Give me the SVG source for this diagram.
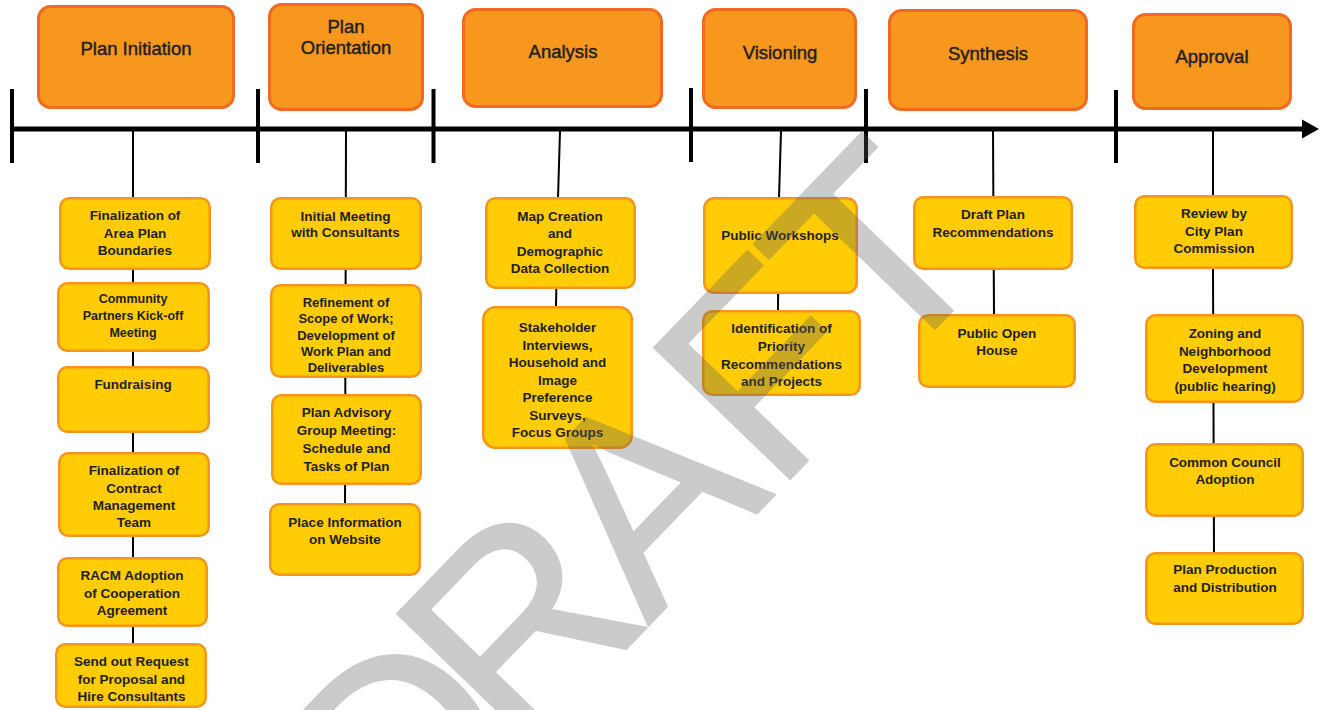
<svg xmlns="http://www.w3.org/2000/svg" width="1323" height="710" viewBox="0 0 1323 710">
<style>
.hdr rect{fill:#F7971D;stroke:#F26A22;stroke-width:3}
.box rect{fill:#FFCC05;stroke:#F7941D;stroke-width:2.5}
.hdr text{font-family:"Liberation Sans",Arial,sans-serif;font-size:18.5px;fill:#231F20;stroke:#231F20;stroke-width:0.45px;text-anchor:middle}
.box text{font-family:"Liberation Sans",Arial,sans-serif;font-size:13.5px;font-weight:bold;fill:#231F20;text-anchor:middle}
.box text.s{font-size:12.5px}
.box text.m{font-size:13px}
.conn line,.conn polyline{stroke:#000;stroke-width:2;fill:none}
</style>
<rect width="1323" height="710" fill="#fff"/>
<g id="timeline">
<line x1="10" y1="129" x2="1305" y2="129" stroke="#000" stroke-width="5"/>
<polygon points="1302,119.5 1319,129 1302,138.5" fill="#000"/>
<g stroke="#000" stroke-width="4">
<line x1="12" y1="89" x2="12" y2="163"/>
<line x1="258" y1="89" x2="258" y2="163"/>
<line x1="433.5" y1="89" x2="433.5" y2="163"/>
<line x1="691" y1="88" x2="691" y2="162"/>
<line x1="866" y1="89" x2="866" y2="163"/>
<line x1="1116" y1="90" x2="1116" y2="163"/>
</g>
</g>
<g id="connectors" class="conn">
<line x1="133" y1="131" x2="133" y2="645"/>
<line x1="346" y1="131" x2="345" y2="505"/>
<polyline points="560,131 558,198 556,307"/>
<polyline points="781,131 779,198 778,311"/>
<line x1="993" y1="131" x2="994" y2="315"/>
<polyline points="1213,131 1213,269 1214,553"/>
</g>
<g id="h1" class="hdr"><rect x="38.5" y="6.5" width="195" height="101" rx="12"/><text x="136" y="55">Plan Initiation</text></g>
<g id="h2" class="hdr"><rect x="269.5" y="4.5" width="153" height="105" rx="12"/><text x="346" y="33">Plan</text><text x="346" y="54">Orientation</text></g>
<g id="h3" class="hdr"><rect x="463.5" y="9.5" width="198" height="97" rx="12"/><text x="563" y="58">Analysis</text></g>
<g id="h4" class="hdr"><rect x="703.5" y="9.5" width="152" height="98" rx="12"/><text x="780" y="59">Visioning</text></g>
<g id="h5" class="hdr"><rect x="889.5" y="10.5" width="197" height="99" rx="12"/><text x="988" y="60">Synthesis</text></g>
<g id="h6" class="hdr"><rect x="1133.5" y="14.5" width="157" height="94" rx="12"/><text x="1212" y="63">Approval</text></g>

<g id="c1a" class="box"><rect x="60.25" y="198.25" width="149.5" height="70.5" rx="9"/><text x="135" y="220">Finalization of</text><text x="135" y="237.5">Area Plan</text><text x="135" y="255">Boundaries</text></g>
<g id="c1b" class="box"><rect x="58.25" y="283.25" width="150.5" height="67.5" rx="9"/><text class="s" x="133" y="303">Community</text><text class="s" x="133" y="320">Partners Kick-off</text><text class="s" x="133" y="337">Meeting</text></g>
<g id="c1c" class="box"><rect x="58.25" y="367.25" width="150.5" height="64.5" rx="9"/><text x="133" y="389">Fundraising</text></g>
<g id="c1d" class="box"><rect x="59.25" y="453.25" width="149.5" height="82.5" rx="9"/><text x="134" y="475">Finalization of</text><text x="134" y="492.5">Contract</text><text x="134" y="510">Management</text><text x="134" y="527">Team</text></g>
<g id="c1e" class="box"><rect x="58.25" y="558.25" width="148.5" height="67.5" rx="9"/><text x="132" y="580">RACM Adoption</text><text x="132" y="597.5">of Cooperation</text><text x="132" y="615">Agreement</text></g>
<g id="c1f" class="box"><rect x="56.25" y="644.25" width="149.5" height="62.5" rx="9"/><text x="131.5" y="666">Send out Request</text><text x="131.5" y="683.5">for Proposal and</text><text x="131.5" y="701">Hire Consultants</text></g>

<g id="c2a" class="box"><rect x="271.25" y="198.25" width="149.5" height="70.5" rx="9"/><text x="345.5" y="220.5">Initial Meeting</text><text x="345.5" y="237">with Consultants</text></g>
<g id="c2b" class="box"><rect x="271.25" y="285.25" width="149.5" height="91.5" rx="9"/><text class="m" x="346" y="307">Refinement of</text><text class="m" x="346" y="323.3">Scope of Work;</text><text class="m" x="346" y="339.5">Development of</text><text class="m" x="346" y="356">Work Plan and</text><text class="m" x="346" y="372">Deliverables</text></g>
<g id="c2c" class="box"><rect x="272.25" y="395.25" width="148.5" height="88.5" rx="9"/><text x="346.5" y="417">Plan Advisory</text><text x="346.5" y="435">Group Meeting:</text><text x="346.5" y="453">Schedule and</text><text x="346.5" y="471">Tasks of Plan</text></g>
<g id="c2d" class="box"><rect x="270.25" y="504.25" width="149.5" height="70.5" rx="9"/><text x="345" y="527">Place Information</text><text x="345" y="543.5">on Website</text></g>

<g id="c3a" class="box"><rect x="486.25" y="198.25" width="148.5" height="89.5" rx="9"/><text x="560" y="221">Map Creation</text><text x="560" y="238">and</text><text x="560" y="256">Demographic</text><text x="560" y="273">Data Collection</text></g>
<g id="c3b" class="box"><rect x="483.25" y="307.25" width="148.5" height="140.5" rx="12"/><text x="557.5" y="332">Stakeholder</text><text x="557.5" y="349.5">Interviews,</text><text x="557.5" y="367">Household and</text><text x="557.5" y="384.5">Image</text><text x="557.5" y="402">Preference</text><text x="557.5" y="419.5">Surveys,</text><text x="557.5" y="437">Focus Groups</text></g>

<g id="c4a" class="box"><rect x="704.25" y="198.25" width="152.5" height="94.5" rx="10"/><text x="780" y="239.5">Public Workshops</text></g>
<g id="c4b" class="box"><rect x="703.25" y="311.25" width="156.5" height="83.5" rx="9"/><text x="781.5" y="333">Identification of</text><text x="781.5" y="351">Priority</text><text x="781.5" y="369">Recommendations</text><text x="781.5" y="386">and Projects</text></g>

<g id="c5a" class="box"><rect x="914.25" y="197.25" width="157.5" height="71.5" rx="9"/><text x="993" y="219">Draft Plan</text><text x="993" y="236.5">Recommendations</text></g>
<g id="c5b" class="box"><rect x="919.25" y="315.25" width="155.5" height="71.5" rx="9"/><text x="997" y="338">Public Open</text><text x="997" y="354.5">House</text></g>

<g id="c6a" class="box"><rect x="1135.25" y="196.25" width="156.5" height="71.5" rx="9"/><text x="1214" y="218">Review by</text><text x="1214" y="236">City Plan</text><text x="1214" y="253">Commission</text></g>
<g id="c6b" class="box"><rect x="1146.25" y="315.25" width="156.5" height="86.5" rx="9"/><text x="1225" y="338">Zoning and</text><text x="1225" y="355.5">Neighborhood</text><text x="1225" y="373">Development</text><text x="1225" y="390.5">(public hearing)</text></g>
<g id="c6c" class="box"><rect x="1146.25" y="444.25" width="156.5" height="71.5" rx="9"/><text x="1225" y="467">Common Council</text><text x="1225" y="484">Adoption</text></g>
<g id="c6d" class="box"><rect x="1146.25" y="553.25" width="156.5" height="70.5" rx="9"/><text x="1225" y="574">Plan Production</text><text x="1225" y="592">and Distribution</text></g>

<g id="watermark" opacity="0.32">
<text transform="translate(712,560) rotate(-46)" x="-451 -280 -92 90 250" y="0" font-family="Liberation Sans, Arial, sans-serif" font-size="275" fill="#5f5f5f" stroke="#5f5f5f" stroke-width="2" stroke-linejoin="round">DRAFT</text>
</g>
</svg>
